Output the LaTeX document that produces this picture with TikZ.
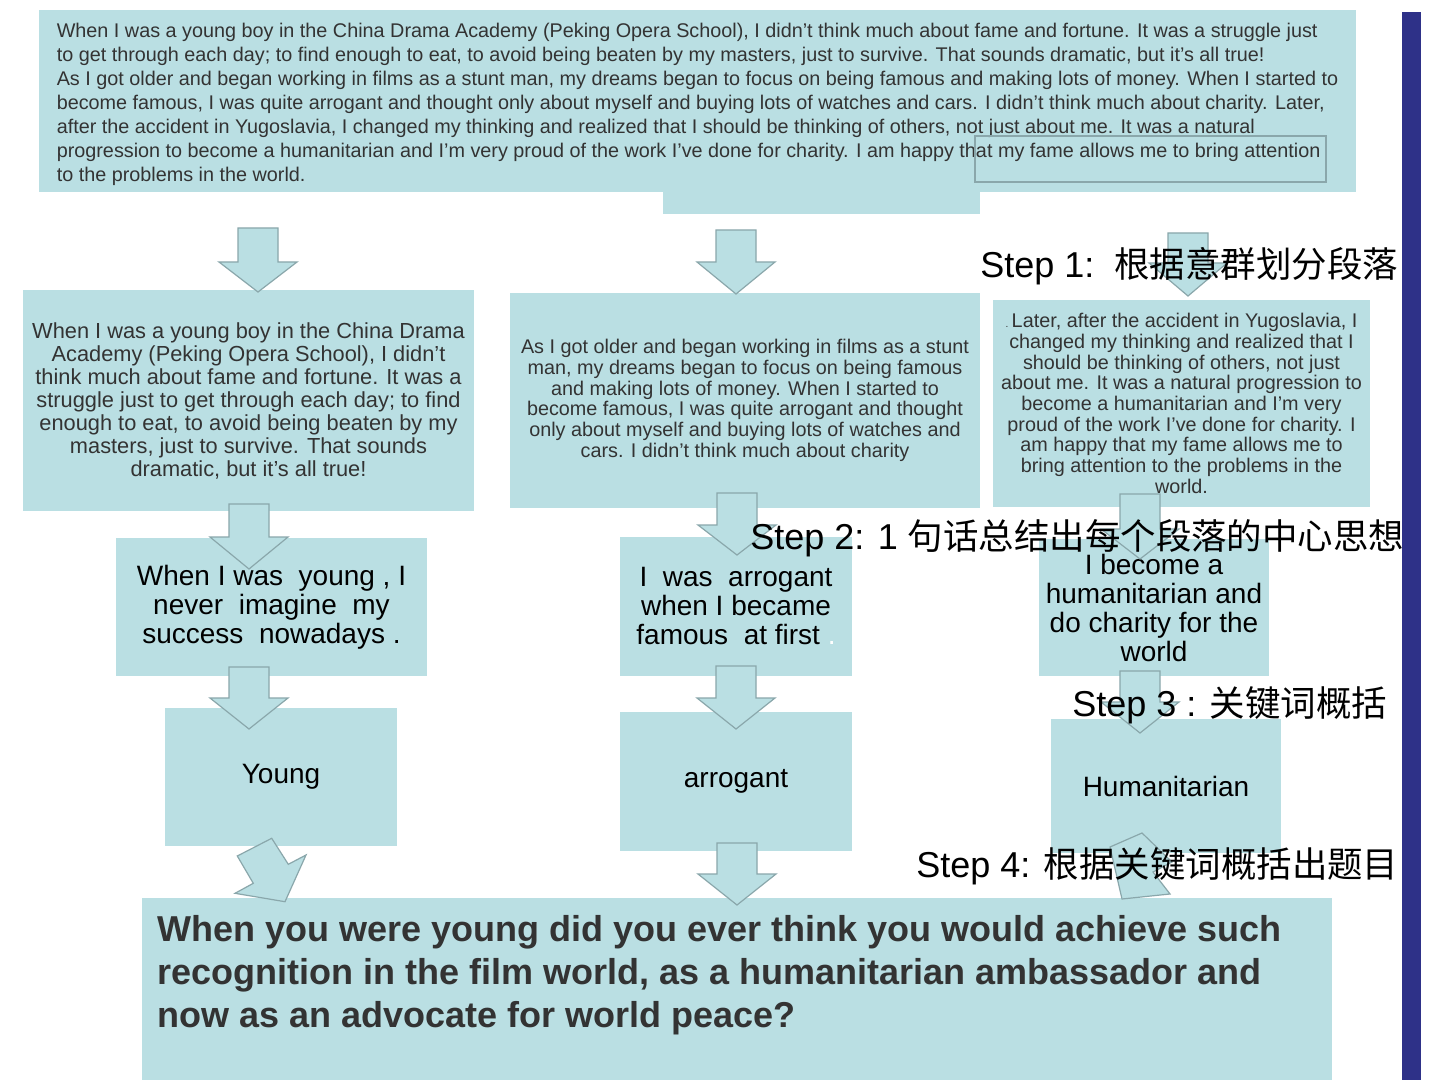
\documentclass[tikz,border=0pt]{standalone}
\usepackage{fontspec}
\setmainfont{Liberation Sans}
\newfontfamily\cjk[Scale=0.985]{Noto Sans CJK SC}
\definecolor{boxfill}{HTML}{BADFE3}
\definecolor{arrline}{HTML}{8AA7AB}
\definecolor{txtgray}{HTML}{333333}
\definecolor{barblue}{HTML}{2E3188}
\newcommand\darr[5]{% name, centre x, top y, head y, tip y
  \draw[arrowshape] ({#2-20},#3) -- ({#2+20},#3) -- ({#2+20},#4) -- ({#2+39},#4)
    -- (#2,#5) coordinate (#1) -- ({#2-39},#4) -- ({#2-20},#4) -- cycle;}
\begin{document}
\begin{tikzpicture}[x=0.5pt,y=-0.5pt,
  box/.style={fill=boxfill, draw=none, inner sep=0pt, align=center},
  arrowshape/.style={fill=boxfill, draw=arrline, line width=0.6pt, line join=miter},
  steplabel/.style={anchor=west, inner sep=0pt, font=\fontsize{18}{20}\selectfont, text=black},
  para/.style={text=txtgray},
  keytext/.style={text=black, font=\fontsize{14}{14.5}\selectfont}]
\useasboundingbox (0,0) rectangle (1440,1080);
\fill[white] (0,0) rectangle (1440,1080);
% right bar
\node[fill=barblue, inner sep=0pt, minimum width=9.5pt, minimum height=534pt] (bar) at (1411.5,546) {};
% top paragraph
\node[box, minimum width=158.5pt, minimum height=11pt] (ext) at (821.5,203) {};
\node[box, minimum width=658.5pt, minimum height=91pt] (top) at (697.5,101) {};
\node[para, align=left, inner sep=0pt, font=\fontsize{9.9}{12}\selectfont] (toptext) at (697.5,104) {%
When I was a young boy in the China Drama Academy (Peking Opera School), I didn’t think much about fame and fortune. It was a struggle just\\
to get through each day; to find enough to eat, to avoid being beaten by my masters, just to survive. That sounds dramatic, but it’s all true!\\
As I got older and began working in films as a stunt man, my dreams began to focus on being famous and making lots of money. When I started to\\
become famous, I was quite arrogant and thought only about myself and buying lots of watches and cars. I didn’t think much about charity. Later,\\
after the accident in Yugoslavia, I changed my thinking and realized that I should be thinking of others, not just about me. It was a natural\\
progression to become a humanitarian and I’m very proud of the work I’ve done for charity. I am happy that my fame allows me to bring attention\\
to the problems in the world.};
\node[draw=arrline, line width=0.6pt, inner sep=0pt, minimum width=175.5pt, minimum height=23pt] (mark) at (1150.5,159) {};
% row 2
\node[box, para, minimum width=225.5pt, minimum height=110.5pt, font=\fontsize{10.9}{11.5}\selectfont] (b1) at (248.5,400.5) {%
When I was a young boy in the China Drama\\
Academy (Peking Opera School), I didn’t\\
think much about fame and fortune. It was a\\
struggle just to get through each day; to find\\
enough to eat, to avoid being beaten by my\\
masters, just to survive. That sounds\\
dramatic, but it’s all true!};
\node[box, para, minimum width=235pt, minimum height=107.5pt, font=\fontsize{9.9}{10.35}\selectfont] (b2) at (745,400.5) {%
As I got older and began working in films as a stunt\\
man, my dreams began to focus on being famous\\
and making lots of money. When I started to\\
become famous, I was quite arrogant and thought\\
only about myself and buying lots of watches and\\
cars. I didn’t think much about charity};
\node[box, para, minimum width=188.5pt, minimum height=103.5pt, font=\fontsize{9.9}{10.35}\selectfont] (b3) at (1181.5,403.5) {%
{\fontsize{5}{6}\selectfont.}\,Later, after the accident in Yugoslavia, I\\
changed my thinking and realized that I\\
should be thinking of others, not just\\
about me. It was a natural progression to\\
become a humanitarian and I’m very\\
proud of the work I’ve done for charity. I\\
am happy that my fame allows me to\\
bring attention to the problems in the\\
world.};
% row 3
\node[box, keytext, minimum width=155.5pt, minimum height=69pt] (c1) at (271.5,607) {%
When I was\ \ young , I\\ never\ \ imagine\ \ my\\ success\ \ nowadays .};
\node[box, keytext, minimum width=116pt, minimum height=69.5pt] (c2) at (736,606.5) {%
I\ \ was\ \ arrogant\\ when I became\\ famous\ \ at first {\color{white}.}};
\node[box, keytext, minimum width=115pt, minimum height=68.5pt] (c3) at (1154,607.5) {%
I become a\\ humanitarian and\\ do charity for the\\ world};
% row 4
\node[box, keytext, minimum width=116pt, minimum height=69pt] (d1) at (281,777) {Young};
\node[box, keytext, minimum width=116pt, minimum height=69.5pt] (d2) at (736,781.5) {arrogant};
\node[box, keytext, minimum width=115pt, minimum height=67pt] (d3) at (1166,786) {Humanitarian};
% bottom question
\node[box, minimum width=595pt, minimum height=91pt] (e) at (737,989) {};
\node[anchor=north west, inner sep=0pt, align=left, text=txtgray,
  font=\bfseries\fontsize{18}{21.5}\selectfont] (etext) at (157,915) {%
When you were young did you ever think you would achieve such\\
recognition in the film world, as a humanitarian ambassador and\\
now as an advocate for world peace?};
% block arrows
\darr{a1}{258}{228}{262}{292}
\darr{a2}{736}{230}{262}{294}
\darr{a3}{1188}{233}{263}{296}
\darr{a4}{249}{504}{537}{569}
\darr{a5}{737}{493}{525}{555}
\darr{a6}{1140}{494}{529}{559}
\darr{a7}{249}{667}{698}{729}
\darr{a8}{736}{666}{698}{729}
\darr{a9}{1140}{671}{702}{733}
\darr{a12}{737}{843}{874}{905}
\draw[arrowshape] (271.7,838.3) -- (237.3,856) -- (253.3,883.3) -- (235,893.3)
  -- (285,901.7) coordinate (a10) -- (306,855) -- (288.3,864.3) -- cycle;
\draw[arrowshape] (1142,833) coordinate (a11) -- (1110,847) -- (1122,899) -- (1170,894)
  -- (1153,872) -- (1172,862) -- cycle;
% step labels
\node[steplabel] (s1) at (980,266) {Step 1:\ \ {\cjk 根据意群划分段落}};
\node[steplabel] (s2) at (750,538) {Step 2: 1 {\cjk 句话总结出每个段落的中心思想}};
\node[steplabel] (s3) at (1072,705) {Step 3 : {\cjk 关键词概括}};
\node[steplabel] (s4) at (916,866) {Step 4: {\cjk 根据关键词概括出题目}};
\end{tikzpicture}
\end{document}
